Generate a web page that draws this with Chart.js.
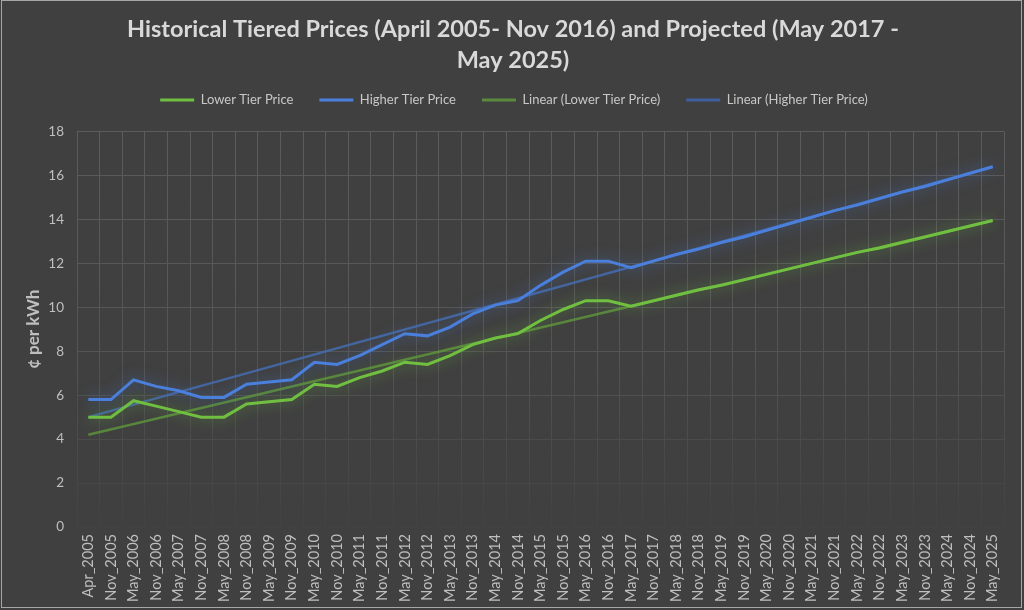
<!DOCTYPE html>
<html>
<head>
<meta charset="utf-8">
<script src="https://cdn.jsdelivr.net/npm/chart.js@4.4.0/dist/chart.umd.min.js"></script>
<style>
  html, body { margin: 0; padding: 0; background: #404040; }
  #wrap { width: 1024px; height: 610px; position: relative; }
</style>
</head>
<body>
<div id="wrap"><canvas id="c" width="1024" height="610"></canvas></div>
<script>
const categories = ["Apr_2005","Nov_2005","May_2006","Nov_2006","May_2007","Nov_2007","May_2008","Nov_2008","May_2009","Nov_2009","May_2010","Nov_2010","May_2011","Nov_2011","May_2012","Nov_2012","May_2013","Nov_2013","May_2014","Nov_2014","May_2015","Nov_2015","May_2016","Nov_2016","May_2017","Nov_2017","May_2018","Nov_2018","May_2019","Nov_2019","May_2020","Nov_2020","May_2021","Nov_2021","May_2022","Nov_2022","May_2023","Nov_2023","May_2024","Nov_2024","May_2025"];
const lowerTier = [5.0,5.0,5.75,5.5,5.25,5.0,5.0,5.6,5.7,5.8,6.5,6.4,6.8,7.1,7.5,7.4,7.8,8.3,8.6,8.8,9.4,9.9,10.3,10.3,10.05,10.3,10.55,10.8,11.0,11.25,11.5,11.75,12.0,12.25,12.5,12.7,12.95,13.2,13.45,13.7,13.95];
const higherTier = [5.8,5.8,6.7,6.4,6.2,5.9,5.9,6.5,6.6,6.7,7.5,7.4,7.8,8.3,8.8,8.7,9.1,9.7,10.1,10.3,11.0,11.6,12.1,12.1,11.8,12.1,12.4,12.65,12.95,13.2,13.5,13.8,14.1,14.4,14.65,14.95,15.25,15.5,15.8,16.1,16.4];
// Trendline endpoints (first and last category)
const lowerTrendStart = 4.2, lowerTrendEnd = 13.95;
const higherTrendStart = 5.0, higherTrendEnd = 16.4;
const yTicks = [0,2,4,6,8,10,12,14,16,18];
const titleLines = ["Historical Tiered Prices (April 2005- Nov 2016) and Projected (May 2017 -", "May 2025)"];
const seriesNames = ["Lower Tier Price","Higher Tier Price","Linear (Lower Tier Price)","Linear (Higher Tier Price)"];

function endpoints(a, b) {
  const arr = categories.map(() => null);
  arr[0] = a; arr[categories.length - 1] = b;
  return arr;
}

const FONT = "Lato, 'Open Sans', sans-serif";
const GREEN = '#70bf41', BLUE = '#4a7fdc';

const glow = {
  id: 'glow',
  beforeDatasetDraw(chart, args) {
    const ds = chart.data.datasets[args.index];
    chart.ctx.save();
    if (ds.glowColor) {
      chart.ctx.shadowColor = ds.glowColor;
      chart.ctx.shadowBlur = 14;
    }
  },
  afterDatasetDraw(chart) { chart.ctx.restore(); }
};
const frame = {
  id: 'frame',
  afterInit(chart) {
    const lg = chart.legend;
    if (lg && !lg._patched) {
      const orig = lg.fit;
      lg.fit = function () { orig.call(this); this.height += 15; };
      lg._patched = true;
    }
  },
  afterLayout(chart) {
    // centre title and legend on the full canvas width, as in the reference
    const t = chart.titleBlock;
    if (t) { t.left += 11; t.right += 11; }
    const lg = chart.legend;
    if (lg) { lg.left += 12; lg.right += 12; }
  },
  beforeDraw(chart) {
    const c = chart.ctx;
    c.save();
    c.fillStyle = '#404040';
    c.fillRect(0, 0, chart.width, chart.height);
    c.restore();
  },
  afterDraw(chart) {
    const c = chart.ctx;
    c.save();
    c.strokeStyle = '#a6a6a6';
    c.lineWidth = 1;
    c.strokeRect(1.5, 0.5, 1020, 607);
    c.restore();
  }
};

function gridColor(ctx) {
  const chart = ctx.chart;
  const a = chart.chartArea;
  if (!a) return '#5a5a5a';
  const g = chart.ctx.createLinearGradient(0, a.top, 0, a.bottom);
  g.addColorStop(0, '#5c5c5c');
  g.addColorStop(0.55, '#555555');
  g.addColorStop(1, '#424242');
  return g;
}

new Chart(document.getElementById('c'), {
  type: 'line',
  data: {
    labels: categories,
    datasets: [
      { label: seriesNames[0], data: lowerTier, borderColor: GREEN, backgroundColor: GREEN, borderWidth: 3, pointRadius: 0, tension: 0, glowColor: 'rgba(112,191,65,0.6)', order: 2 },
      { label: seriesNames[1], data: higherTier, borderColor: BLUE, backgroundColor: BLUE, borderWidth: 3, pointRadius: 0, tension: 0, glowColor: 'rgba(74,127,220,0.6)', order: 1 },
      { label: seriesNames[2], data: endpoints(lowerTrendStart, lowerTrendEnd), borderColor: 'rgba(95,150,60,0.8)', backgroundColor: '#5b8a3c', borderWidth: 2.5, pointRadius: 0, spanGaps: true, order: 4 },
      { label: seriesNames[3], data: endpoints(higherTrendStart, higherTrendEnd), borderColor: 'rgba(70,110,180,0.8)', backgroundColor: '#3f5f9e', borderWidth: 2.5, pointRadius: 0, spanGaps: true, order: 3 }
    ]
  },
  options: {
    responsive: false,
    animation: false,
    devicePixelRatio: 1,
    layout: { padding: { left: 0, right: 20, top: 0, bottom: 2 } },
    plugins: {
      tooltip: { enabled: false },
      title: {
        display: true,
        text: titleLines,
        color: '#d9d9d9',
        font: { family: FONT, size: 23.5, weight: 'bold', lineHeight: 1.32 },
        padding: { top: 14, bottom: -8.5 }
      },
      legend: {
        display: true,
        labels: {
          color: '#c8c8c8',
          font: { family: FONT, size: 13 },
          boxWidth: 34,
          boxHeight: 3,
          padding: 26,
          generateLabels(chart) {
            return chart.data.datasets.map((ds, i) => ({
              text: ds.label, fillStyle: ds.backgroundColor, strokeStyle: ds.backgroundColor,
              lineWidth: 0, hidden: false, datasetIndex: i, fontColor: '#c8c8c8'
            }));
          }
        }
      }
    },
    scales: {
      x: {
        offset: true,
        grid: { offset: true, color: gridColor, drawTicks: false, lineWidth: 1 },
        border: { display: false },
        ticks: { color: '#bfbfbf', font: { family: FONT, size: 14.5 }, maxRotation: 90, minRotation: 90, autoSkip: false, padding: 7 },
        afterFit(s) { s.height = 81; }
      },
      y: {
        min: 0, max: 18,
        afterBuildTicks(s) { s.ticks = yTicks.map(v => ({ value: v })); },
        grid: { color: gridColor, drawTicks: false, lineWidth: 1 },
        border: { display: false },
        ticks: { color: '#bfbfbf', font: { family: FONT, size: 13.5 }, padding: 13 },
        title: { display: true, text: '¢ per kWh', color: '#bfbfbf', font: { family: FONT, size: 17, weight: 'bold' }, padding: { top: 23, bottom: 0 } },
        afterFit(s) { s.width = 77; }
      }
    }
  },
  plugins: [frame, glow]
});
</script>
</body>
</html>
